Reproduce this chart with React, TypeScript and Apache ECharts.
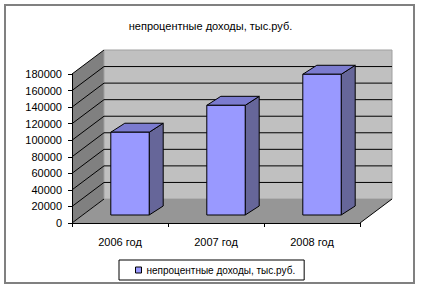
import React, { useEffect, useRef } from "react";
import * as echarts from "echarts";

const categories = ["2006 год", "2007 год", "2008 год"];
const values = [100000, 132500, 170000];
const yTicks = [0, 20000, 40000, 60000, 80000, 100000, 120000, 140000, 160000, 180000];
const seriesName = "непроцентные доходы, тыс.руб.";
const titleText = "непроцентные доходы, тыс.руб.";

const FONT = "'Liberation Sans', Arial, sans-serif";
const WALL_DX = 32;
const WALL_DY = -24;
const BAR_SX = 10;
const BAR_SY = -8;
const BAR_DX = 14;
const BAR_DY = -9;

export default function App() {
  const ref = useRef<HTMLDivElement>(null);
  useEffect(() => {
    if (!ref.current) return;
    const chart = echarts.init(ref.current, null, { renderer: "svg" });
    const option: any = {
      animation: false,
      backgroundColor: "#ffffff",
      title: {
        text: titleText,
        left: "center",
        top: 15,
        textStyle: { fontFamily: FONT, fontSize: 11, fontWeight: "normal", color: "#000" },
      },
      grid: { left: 72, right: 61, top: 74, bottom: 68, containLabel: false },
      xAxis: {
        type: "category",
        data: categories,
        z: 5,
        axisLine: { show: true, lineStyle: { color: "#000", width: 1 } },
        axisTick: { show: true, length: 4, alignWithLabel: false, lineStyle: { color: "#000" } },
        axisLabel: { margin: 13, fontFamily: FONT, fontSize: 11, color: "#000" },
        splitLine: { show: false },
      },
      yAxis: {
        type: "value",
        min: 0,
        max: 180000,
        interval: 20000,
        z: 5,
        axisLine: { show: true, lineStyle: { color: "#000", width: 1 } },
        axisTick: { show: true, length: 4, lineStyle: { color: "#000" } },
        axisLabel: {
          margin: 10,
          fontFamily: FONT,
          fontSize: 11,
          color: "#000",
          formatter: (v: number) => String(v),
        },
        splitLine: { show: false },
      },
      legend: {
        left: 119,
        top: 260,
        padding: [5, 9, 5, 16],
        borderColor: "#000",
        borderWidth: 1,
        itemWidth: 6,
        itemHeight: 6,
        icon: "rect",
        textStyle: { fontFamily: FONT, fontSize: 10, color: "#000" },
        data: [{ name: seriesName, itemStyle: { color: "#9999ff", borderColor: "#000", borderWidth: 1 } }],
      },
      series: [
        {
          type: "custom",
          name: "walls",
          z: 1,
          silent: true,
          data: [[0, 0]],
          encode: { x: 0, y: 1 },
          renderItem: (params: any, api: any) => {
            const cs = params.coordSys;
            const x0 = cs.x;
            const x1 = cs.x + cs.width;
            const yb = api.coord([0, yTicks[0]])[1];
            const yt = api.coord([0, yTicks[yTicks.length - 1]])[1];
            const children: any[] = [];
            children.push({
              type: "polygon",
              shape: { points: [[x0, yb], [x0, yt], [x0 + WALL_DX, yt + WALL_DY], [x0 + WALL_DX, yb + WALL_DY]] },
              style: { fill: "#808080", stroke: "none" },
            });
            children.push({
              type: "polygon",
              shape: {
                points: [
                  [x0 + WALL_DX, yt + WALL_DY],
                  [x1 + WALL_DX, yt + WALL_DY],
                  [x1 + WALL_DX, yb + WALL_DY],
                  [x0 + WALL_DX, yb + WALL_DY],
                ],
              },
              style: { fill: "#c0c0c0", stroke: "#a0a0a0", lineWidth: 1 },
            });
            children.push({
              type: "polygon",
              shape: { points: [[x0, yb], [x1, yb], [x1 + WALL_DX, yb + WALL_DY], [x0 + WALL_DX, yb + WALL_DY]] },
              style: { fill: "#969696", stroke: "none" },
            });
            children.push({
              type: "line",
              shape: { x1: x1, y1: yb, x2: x1 + WALL_DX, y2: yb + WALL_DY },
              style: { stroke: "#000", lineWidth: 1 },
            });
            yTicks.forEach((v, i) => {
              const y = api.coord([0, v])[1];
              children.push({
                type: "line",
                shape: { x1: x0, y1: y, x2: x0 + WALL_DX, y2: y + WALL_DY },
                style: { stroke: "#000", lineWidth: 1 },
              });
              if (i > 0 && i < yTicks.length - 1) {
                children.push({
                  type: "line",
                  shape: { x1: x0 + WALL_DX, y1: y + WALL_DY, x2: x1 + WALL_DX, y2: y + WALL_DY },
                  style: { stroke: "#000", lineWidth: 1 },
                });
              }
            });
            return { type: "group", children };
          },
        },
        {
          type: "custom",
          name: seriesName,
          z: 3,
          itemStyle: { color: "#9999ff", borderColor: "#000", borderWidth: 1 },
          data: values.map((v, i) => [i, v]),
          encode: { x: 0, y: 1 },
          renderItem: (params: any, api: any) => {
            const idx = api.value(0);
            const val = api.value(1);
            const top = api.coord([idx, val]);
            const bot = api.coord([idx, 0]);
            const w = api.size([1, 0])[0] * 0.4;
            const xa = top[0] - w / 2 + BAR_SX;
            const xb = top[0] + w / 2 + BAR_SX;
            const yT = top[1] + BAR_SY;
            const yB = bot[1] + BAR_SY;
            const st = { stroke: "#000", lineWidth: 1 };
            return {
              type: "group",
              children: [
                {
                  type: "polygon",
                  shape: { points: [[xb, yT], [xb + BAR_DX, yT + BAR_DY], [xb + BAR_DX, yB + BAR_DY], [xb, yB]] },
                  style: { fill: "#666699", ...st },
                },
                {
                  type: "polygon",
                  shape: { points: [[xa, yT], [xa + BAR_DX, yT + BAR_DY], [xb + BAR_DX, yT + BAR_DY], [xb, yT]] },
                  style: { fill: "#7b7bcf", ...st },
                },
                {
                  type: "rect",
                  shape: { x: xa, y: yT, width: xb - xa, height: yB - yT },
                  style: { fill: "#9999ff", ...st },
                },
              ],
            };
          },
        },
      ],
      graphic: [
        {
          type: "rect",
          silent: true,
          z: 10,
          shape: { x: 5, y: 5, width: 409, height: 278 },
          style: { fill: "none", stroke: "#808080", lineWidth: 2 },
        },
      ],
    };
    chart.setOption(option);
    return () => chart.dispose();
  }, []);
  return (
    <div
      ref={ref}
      style={{ position: "absolute", left: 0, top: 0, width: 421, height: 291 }}
    />
  );
}
